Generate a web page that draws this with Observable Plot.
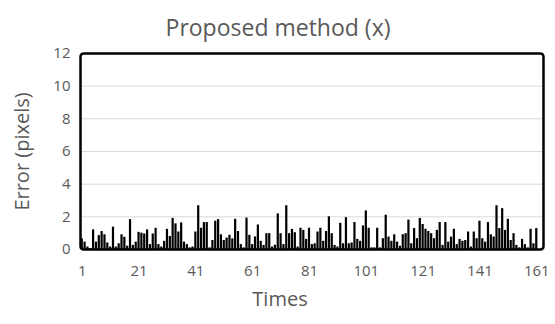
<!DOCTYPE html>
<html>
<head>
<meta charset="utf-8">
<script src="https://cdn.jsdelivr.net/npm/d3@7"></script>
<script src="https://cdn.jsdelivr.net/npm/@observablehq/plot@0.6"></script>
<style>
  html, body { margin: 0; padding: 0; background: #fff; }
  #chart { width: 555px; height: 324px; }
</style>
</head>
<body>
<div id="chart"></div>
<script>
const title = "Proposed method (x)";
const xLabel = "Times";
const yLabel = "Error (pixels)";
const xTickLabels = [1, 21, 41, 61, 81, 101, 121, 141, 161];
const yTickValues = [0, 2, 4, 6, 8, 10, 12];
const errors = [
  0.65,0.45,0.15,0.05,1.2,0.45,0.85,1.1,0.9,0.4,
  0.15,1.37,0.15,0.35,0.9,0.75,0.2,1.83,0.25,0.45,
  1.05,1.0,0.95,1.2,0.3,0.95,1.3,0.3,0.15,0.5,
  1.23,0.8,1.9,1.57,1.07,1.63,0.45,0.3,0.1,0.15,
  1.07,2.68,1.3,1.65,1.65,0.1,0.55,1.73,1.83,0.9,
  0.55,0.7,0.87,0.65,1.85,1.1,0.3,0.1,1.92,0.87,
  0.3,0.77,1.5,0.5,0.25,0.97,0.97,0.15,0.26,2.18,
  0.97,0.3,2.68,0.97,1.23,1.03,0.15,1.3,1.17,0.62,
  1.3,0.3,0.35,1.07,1.3,0.5,1.1,2.0,0.97,0.25,
  0.15,1.6,0.35,1.95,0.35,0.4,1.65,0.62,0.5,1.44,
  2.36,1.3,0.1,0.1,1.3,0.1,0.66,2.1,0.76,0.5,
  0.9,0.45,0.2,0.9,0.97,1.8,0.35,1.28,0.66,1.9,
  1.53,1.24,1.1,0.97,0.66,1.17,1.65,0.25,1.65,0.45,
  0.76,1.24,0.3,0.62,0.5,0.55,1.07,0.15,1.07,0.66,
  1.73,0.66,0.45,1.65,0.9,0.76,2.68,1.28,2.5,1.17,
  1.85,0.55,0.97,0.25,0.1,0.62,0.3,0.1,1.24,0.35,1.28
];
const times = errors.map((_, i) => i + 1);
const data = times.map((t, i) => ({time: t, error: errors[i]}));

const font = "'Open Sans', Lato, sans-serif";
const grey = "#595959";

const chart = Plot.plot({
  width: 555,
  height: 324,
  marginTop: 53,
  marginBottom: 75,
  marginLeft: 80,
  marginRight: 12,
  style: {fontFamily: font, background: "#fff"},
  x: {type: "band", domain: times, padding: 0.22, insetRight: 5, axis: null},
  y: {domain: [0, 12], axis: null},
  marks: [
    Plot.gridY(yTickValues.filter(v => v > 0 && v < 12), {stroke: "#d9d9d9", strokeOpacity: 1, strokeWidth: 1}),
    Plot.barY(data, {x: "time", y: "error", fill: "black"}),
    Plot.axisY({ticks: yTickValues, tickSize: 0, tickPadding: 10, fontSize: 15, fill: grey, label: null}),
    Plot.axisX({ticks: xTickLabels, tickSize: 0, tickPadding: 16, fontSize: 15, fill: grey, label: null}),
    Plot.frame({stroke: "black", strokeWidth: 2.5, rx: 3}),
    Plot.text([title], {frameAnchor: "top", textAnchor: "middle", dx: -34, dy: -34, fontSize: 23, fill: grey, text: d => d}),
    Plot.text([xLabel], {frameAnchor: "bottom", textAnchor: "middle", dx: -32, dy: 56, fontSize: 20, fill: grey, text: d => d}),
    Plot.text([yLabel], {frameAnchor: "left", textAnchor: "middle", dx: -58, rotate: -90, fontSize: 20, fill: grey, text: d => d})
  ]
});
document.getElementById("chart").appendChild(chart);
</script>
</body>
</html>
